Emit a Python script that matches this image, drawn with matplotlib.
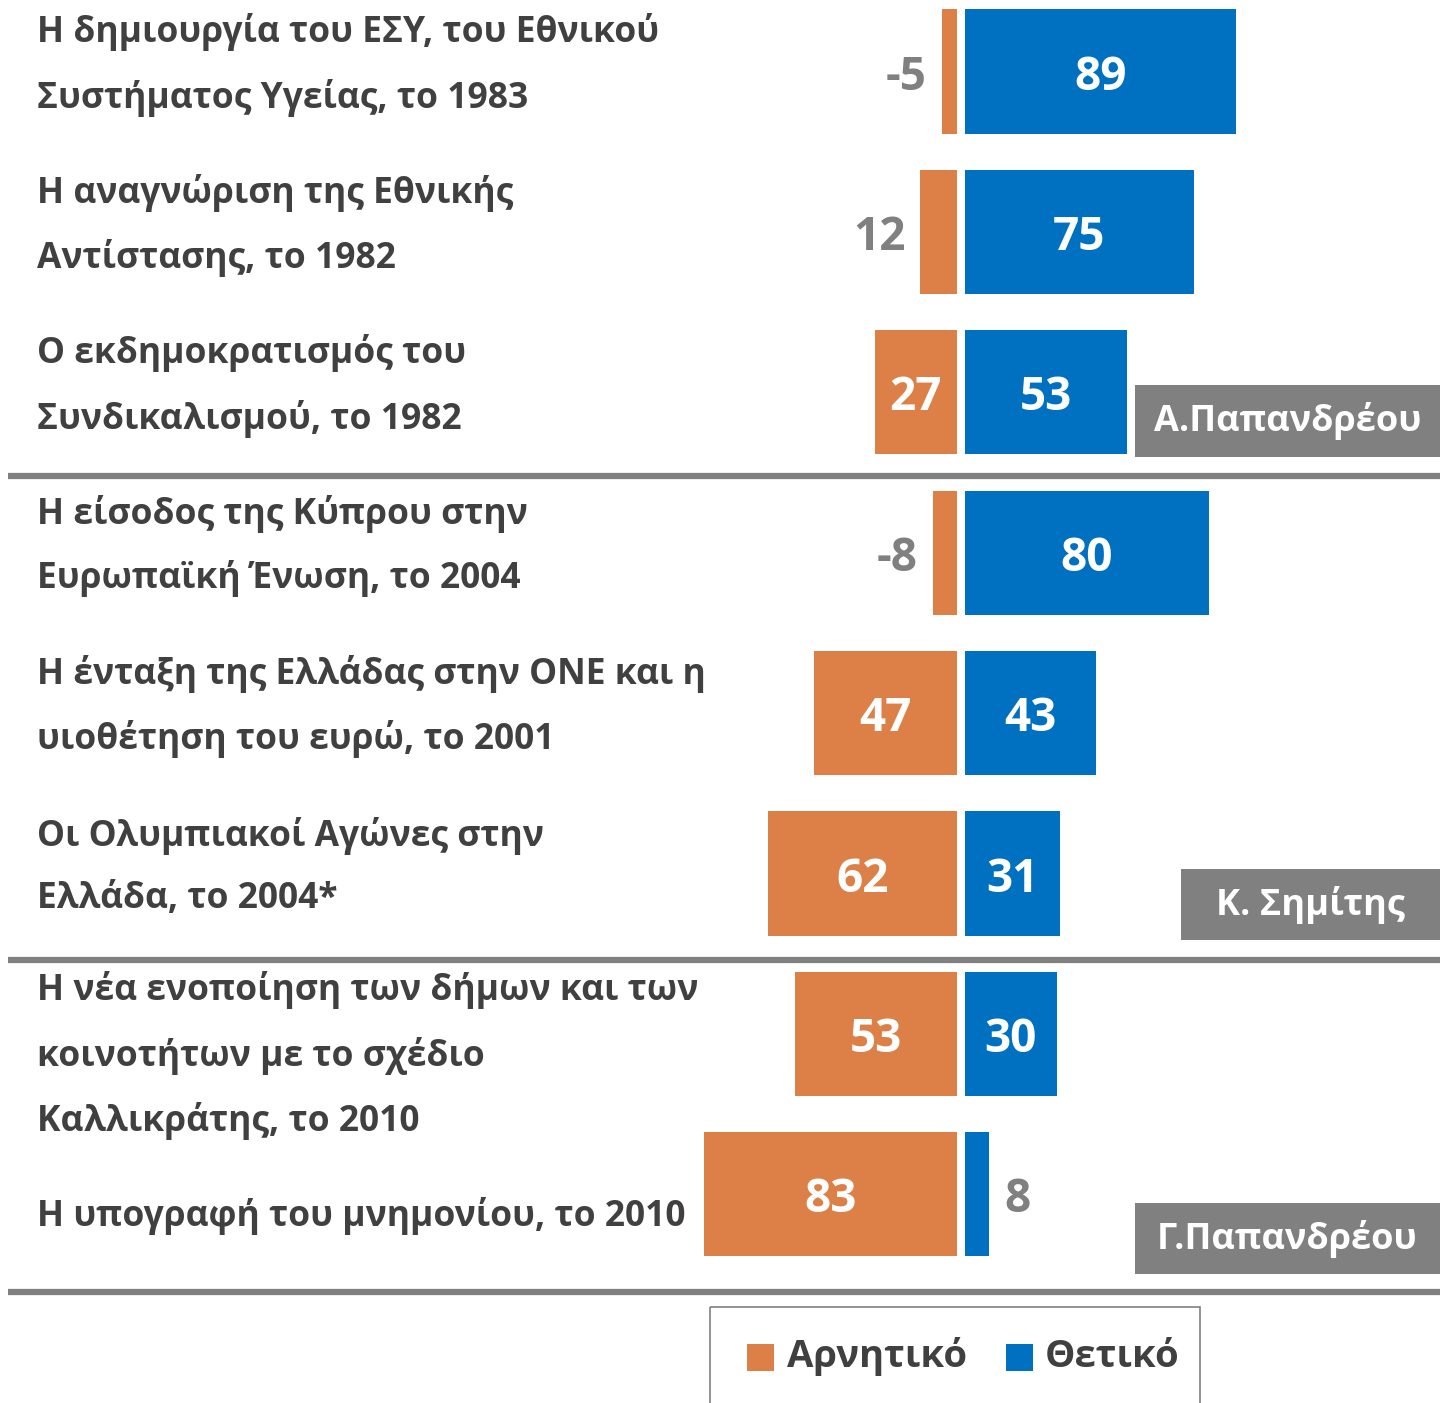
import matplotlib.pyplot as plt
from matplotlib.patches import Rectangle

# data
labels = [
    "Η δημιουργία του ΕΣΥ, του Εθνικού\nΣυστήματος Υγείας, το 1983",
    "Η αναγνώριση της Εθνικής\nΑντίστασης, το 1982",
    "Ο εκδημοκρατισμός του\nΣυνδικαλισμού, το 1982",
    "Η είσοδος της Κύπρου στην\nΕυρωπαϊκή Ένωση, το 2004",
    "Η ένταξη της Ελλάδας στην ΟΝΕ και η\nυιοθέτηση του ευρώ, το 2001",
    "Οι Ολυμπιακοί Αγώνες στην\nΕλλάδα, το 2004*",
    "Η νέα ενοποίηση των δήμων και των\nκοινοτήτων με το σχέδιο\nΚαλλικράτης, το 2010",
    "Η υπογραφή του μνημονίου, το 2010",
]
negative = [-5, 12, 27, -8, 47, 62, 53, 83]
positive = [89, 75, 53, 80, 43, 31, 30, 8]
groups = ["Α.Παπανδρέου", "Κ. Σημίτης", "Γ.Παπανδρέου"]
legend_names = ["Αρνητικό", "Θετικό"]

ORANGE = "#DD8047"
BLUE = "#0070C0"
GREY = "#808080"
TEXT = "#404040"
FONT = ["Open Sans", "DejaVu Sans"]

W, H = 1440, 1403
fig = plt.figure(figsize=(W / 100, H / 100), dpi=100)

# overlay axes in pixel units for text, separators, boxes
ov = fig.add_axes([0, 0, 1, 1])
ov.set_xlim(0, W)
ov.set_ylim(H, 0)
ov.axis("off")

# bar axes: x in value units, y in row units
S = 3.05          # pixels per unit
XC = 961          # zero line in pixels
ROW0, ROWH = 71.5, 160.4
ax = fig.add_axes([0, 0, 1, 1])
ax.set_xlim(-XC / S, (W - XC) / S)
ax.set_ylim((H - ROW0) / ROWH, -ROW0 / ROWH)
ax.axis("off")
ax.patch.set_alpha(0)

gap = 4 / S
rows = list(range(len(labels)))
neg_w = [abs(v) for v in negative]
ax.barh(rows, [-w for w in neg_w], left=-gap, height=0.775, color=ORANGE)
ax.barh(rows, positive, left=gap, height=0.775, color=BLUE)

pad = 15 / S
NUM = dict(fontsize=33, fontweight="bold", family=FONT, va="center_baseline")
for i in rows:
    # negative side
    v, w = negative[i], neg_w[i]
    if w >= 20:
        ax.text(-gap - w / 2, i, str(v), ha="center", color="white", **NUM)
    else:
        ax.text(-gap - w - pad, i, str(v), ha="right", color=GREY, **NUM)
    # positive side
    p = positive[i]
    if p >= 20:
        ax.text(gap + p / 2, i, str(p), ha="center", color="white", **NUM)
    else:
        ax.text(gap + p + pad, i, str(p), ha="left", color=GREY, **NUM)

# category labels
for i, lab in enumerate(labels):
    n = lab.count("\n") + 1
    dy = -6.5 if n == 2 else 22
    ov.text(37, ROW0 + i * ROWH + dy, lab, ha="left", va="center", color=TEXT,
            fontsize=25.5, fontweight="bold", family=FONT, linespacing=1.95)

# group separators
for y in (476, 960, 1292):
    ov.plot([8, W], [y, y], color=GREY, lw=4.5, solid_capstyle="butt")

# group name boxes
boxes = [(1135, 385, 305, 72), (1181, 869, 259, 71), (1135, 1203, 305, 71)]
for name, (x, y, w, h) in zip(groups, boxes):
    ov.add_patch(Rectangle((x, y), w, h, color=GREY, lw=0))
    ov.text(x + w / 2, y + h / 2, name, ha="center", va="center", color="white",
            fontsize=26, fontweight="bold", family=FONT)

# legend
ov.add_patch(Rectangle((710, 1307), 490, 110, fill=False, ec=GREY, lw=1.2))
for name, col, sx, tx in zip(legend_names, [ORANGE, BLUE], [747, 1006], [787, 1045]):
    ov.add_patch(Rectangle((sx, 1344), 27, 27, color=col, lw=0))
    ov.text(tx, 1357, name, ha="left", va="center", color=TEXT,
            fontsize=27.5, fontweight="bold", family=FONT)

fig.savefig("out.png", dpi=100)
